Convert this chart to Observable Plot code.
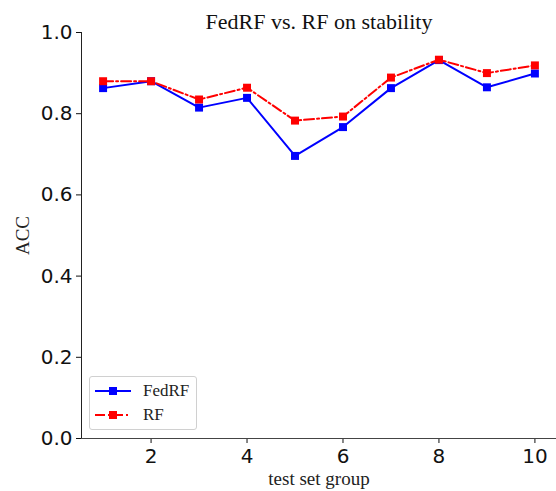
<!DOCTYPE html>
<html>
<head>
<meta charset="utf-8">
<script src="https://cdn.jsdelivr.net/npm/d3@7"></script>
<script src="https://cdn.jsdelivr.net/npm/@observablehq/plot@0.6"></script>
<style>
  html, body { margin: 0; padding: 0; background: #fff; }
  #wrap { position: relative; width: 556px; height: 491px; overflow: hidden; }
  #legend {
    position: absolute; left: 89px; top: 376px; width: 106px; height: 52px;
    border: 1px solid #d0d0d0; border-radius: 3px; background: rgba(255,255,255,0.8);
    font-family: "Liberation Serif", "Times New Roman", serif; font-size: 17px; color: #222;
  }
  .row { position: absolute; left: 5px; height: 20px; display: flex; align-items: center; }
  .row svg { margin-right: 12px; }
</style>
</head>
<body>
<div id="wrap"><div id="chart"></div><div id="legend"></div></div>
<script>
const groups = [1, 2, 3, 4, 5, 6, 7, 8, 9, 10];
const fedrf = [0.863, 0.880, 0.815, 0.839, 0.696, 0.767, 0.863, 0.932, 0.865, 0.899];
const rf    = [0.880, 0.880, 0.835, 0.864, 0.783, 0.793, 0.889, 0.933, 0.900, 0.919];
const seriesNames = ["FedRF", "RF"];
const seriesColors = ["#0000ff", "#ff0000"];
const yTicks = [0, 0.2, 0.4, 0.6, 0.8, 1.0];
const xTicks = [2, 4, 6, 8, 10];
const titleText = "FedRF vs. RF on stability";
const xLabel = "test set group";
const yLabel = "ACC";

const fedData = groups.map((g, i) => ({x: g, y: fedrf[i]}));
const rfData = groups.map((g, i) => ({x: g, y: rf[i]}));

const serif = "'Liberation Serif', 'Times New Roman', serif";

const chart = Plot.plot({
  width: 556,
  height: 491,
  marginTop: 32,
  marginBottom: 53,
  marginLeft: 81,
  marginRight: 0,
  style: { fontFamily: "'DejaVu Sans', sans-serif", background: "#fff", overflow: "visible" },
  x: { domain: [0.55, 10.45], ticks: xTicks, label: null },
  y: { domain: [0, 1], ticks: yTicks, label: null },
  marks: [
    Plot.axisX({ ticks: xTicks, tickSize: 5, tickPadding: 5, fontSize: 20, color: "#111", tickFormat: d => String(d), label: null }),
    Plot.axisY({ ticks: yTicks, tickSize: 5, tickPadding: 4, fontSize: 20, color: "#111", tickFormat: d => d.toFixed(1), label: null }),
    Plot.ruleX([0.55], { stroke: "#222", strokeWidth: 1 }),
    Plot.ruleY([0], { stroke: "#444", strokeWidth: 1 }),
    Plot.line(fedData, { x: "x", y: "y", stroke: seriesColors[0], strokeWidth: 2 }),
    Plot.dot(fedData, { x: "x", y: "y", symbol: "square", r: 4.5, fill: seriesColors[0], stroke: "none" }),
    Plot.line(rfData, { x: "x", y: "y", stroke: seriesColors[1], strokeWidth: 2, strokeDasharray: "10,3,2,3" }),
    Plot.dot(rfData, { x: "x", y: "y", symbol: "square", r: 4.5, fill: seriesColors[1], stroke: "none" }),
    Plot.text([titleText], { frameAnchor: "top", lineAnchor: "bottom", dy: -4, fontSize: 22, fontFamily: serif, fill: "#111" }),
    Plot.text([xLabel], { frameAnchor: "bottom", lineAnchor: "top", dy: 32.5, fontSize: 19, fontFamily: serif, fill: "#222" }),
    Plot.text([yLabel], { frameAnchor: "left", textAnchor: "middle", lineAnchor: "middle", rotate: -90, dx: -59, fontSize: 19, fontFamily: serif, fill: "#222" })
  ]
});
document.getElementById("chart").appendChild(chart);

const legend = document.getElementById("legend");
seriesNames.forEach((name, i) => {
  const row = document.createElement("div");
  row.className = "row";
  row.style.top = (4 + i * 24) + "px";
  const dash = i === 1 ? ' stroke-dasharray="10,3,2,3"' : '';
  row.innerHTML = `<svg width="36" height="10"><line x1="0" y1="5" x2="36" y2="5" stroke="${seriesColors[i]}" stroke-width="2"${dash}/><rect x="14" y="1" width="8" height="8" fill="${seriesColors[i]}"/></svg><span>${name}</span>`;
  legend.appendChild(row);
});
</script>
</body>
</html>
